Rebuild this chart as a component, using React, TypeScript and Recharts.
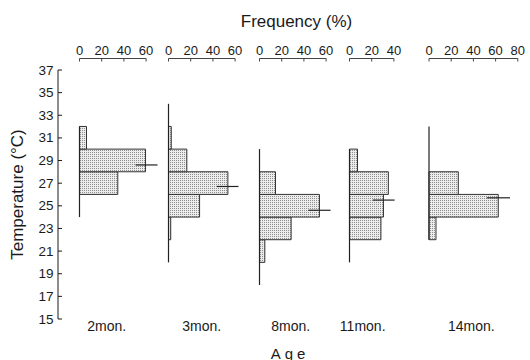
import React from 'react';
import { ComposedChart, XAxis, YAxis, ReferenceArea, ReferenceLine, Label } from 'recharts';

// ages (one histogram panel each)
const ages = ['2mon.', '3mon.', '8mon.', '11mon.', '14mon.'];
const tempTicks = [15, 17, 19, 21, 23, 25, 27, 29, 31, 33, 35, 37];

// histogram bins: lower / upper temperature (°C), frequency (%)
const bins2mon = [
  { lo: 26, hi: 28, pct: 34.5 },
  { lo: 28, hi: 30, pct: 59.5 },
  { lo: 30, hi: 32, pct: 6.3 },
];
const bins3mon = [
  { lo: 22, hi: 24, pct: 2 },
  { lo: 24, hi: 26, pct: 28 },
  { lo: 26, hi: 28, pct: 53.5 },
  { lo: 28, hi: 30, pct: 16.5 },
  { lo: 30, hi: 32, pct: 2.5 },
];
const bins8mon = [
  { lo: 20, hi: 22, pct: 4.8 },
  { lo: 22, hi: 24, pct: 28.5 },
  { lo: 24, hi: 26, pct: 54 },
  { lo: 26, hi: 28, pct: 14.4 },
];
const bins11mon = [
  { lo: 22, hi: 24, pct: 28.3 },
  { lo: 24, hi: 26, pct: 30.6 },
  { lo: 26, hi: 28, pct: 35 },
  { lo: 28, hi: 30, pct: 7.2 },
];
const bins14mon = [
  { lo: 22, hi: 24, pct: 6.3 },
  { lo: 24, hi: 26, pct: 62.4 },
  { lo: 26, hi: 28, pct: 26.4 },
];
const panelBins = [bins2mon, bins3mon, bins8mon, bins11mon, bins14mon];

const freqTicks = [
  [0, 20, 40, 60],
  [0, 20, 40, 60],
  [0, 20, 40, 60],
  [0, 20, 40],
  [0, 20, 40, 60, 80],
];
// temperature range covered by each panel's base line
const tempRange = [[24, 32], [20, 34], [18, 30], [20, 30], [22, 32]];
// mean temperature and the frequency span of its marker
const meanTemp = [28.6, 26.7, 24.6, 25.5, 25.7];
const meanMark = [[50.5, 70.3], [43.6, 63], [44, 64], [21, 40.6], [52, 73]];

// layout
const W = 530;
const H = 360;
const PX_PER_PCT = 1.11;
const panelLeft = [79.5, 168.5, 259.5, 349.5, 429];
const ageShift = [-6, 0, -2, -9, -2];
const FONT = '"Liberation Sans", Arial, Helvetica, sans-serif';
const INK = '#1a1a1a';

const FreqTick = (props: any) => {
  const { x, y, payload } = props;
  return (
    <g>
      <line x1={x} x2={x} y1={y} y2={y + 3} stroke="#444" strokeWidth={1} />
      <text x={x} y={y - 4} textAnchor="middle" fontSize={13} fontFamily={FONT} fill={INK}>
        {payload.value}
      </text>
    </g>
  );
};

const TempTick = (props: any) => {
  const { x, y, payload } = props;
  return (
    <g>
      <line x1={x} x2={x + 4} y1={y} y2={y} stroke={INK} strokeWidth={1} />
      <text x={x - 4.5} y={y} textAnchor="end" dominantBaseline="central" fontSize={13.5} fontFamily={FONT} fill={INK}>
        {payload.value}
      </text>
    </g>
  );
};

const Panel = ({ i }: { i: number }) => {
  const ticks = freqTicks[i];
  const max = ticks[ticks.length - 1];
  const left = panelLeft[i];
  const right = W - left - max * PX_PER_PCT;
  const bins = panelBins[i];
  const pid = `stipple${i}`;
  return (
    <div style={{ position: 'absolute', left: 0, top: 0 }}>
      <ComposedChart width={W} height={H} data={bins} margin={{ top: 28.5, right, bottom: 11, left }}>
        <defs>
          <pattern id={pid} width={2} height={2} patternUnits="userSpaceOnUse">
            <rect width={2} height={2} fill="#ececec" />
            <rect width={1} height={1} fill="#8f8f8f" />
          </pattern>
        </defs>
        <XAxis
          xAxisId="top"
          dataKey="pct"
          orientation="top"
          type="number"
          domain={[0, max]}
          ticks={ticks}
          interval={0}
          height={30}
          tickSize={0}
          tickMargin={0}
          axisLine={{ stroke: '#444', strokeWidth: 1 }}
          tickLine={false}
          tick={<FreqTick />}
          allowDataOverflow
        />
        <XAxis
          xAxisId="bottom"
          dataKey="pct"
          orientation="bottom"
          type="number"
          domain={[0, max]}
          height={30}
          axisLine={false}
          tickLine={false}
          tick={false}
          allowDataOverflow
        >
          <Label
            content={(p: any) => (
              <text
                x={p.viewBox.x + p.viewBox.width / 2 + ageShift[i]}
                y={p.viewBox.y + 7}
                textAnchor="middle"
                dominantBaseline="central"
                fontSize={14}
                fontFamily={FONT}
                fill={INK}
              >
                {ages[i]}
              </text>
            )}
          />
        </XAxis>
        <YAxis dataKey="lo" type="number" domain={[15, 38]} hide allowDataOverflow />
        {bins.map((b, k) => (
          <ReferenceArea
            key={k}
            xAxisId="top"
            x1={0}
            x2={b.pct}
            y1={b.lo}
            y2={b.hi}
            fill={`url(#${pid})`}
            fillOpacity={1}
            stroke="#333"
            strokeWidth={1}
            ifOverflow="visible"
          />
        ))}
        <ReferenceLine
          xAxisId="top"
          segment={[{ x: 0, y: tempRange[i][0] }, { x: 0, y: tempRange[i][1] }]}
          stroke="#222"
          strokeWidth={1.2}
          ifOverflow="visible"
        />
        <ReferenceLine
          xAxisId="top"
          segment={[{ x: meanMark[i][0], y: meanTemp[i] }, { x: meanMark[i][1], y: meanTemp[i] }]}
          stroke="#222"
          strokeWidth={1.2}
          ifOverflow="visible"
        />
      </ComposedChart>
    </div>
  );
};

export default function App() {
  return (
    <div style={{ position: 'relative', width: W, height: H, background: '#fff', fontFamily: FONT }}>
      <style>{'body{margin:0}'}</style>
      <div style={{ position: 'absolute', left: 0, top: 0 }}>
        <ComposedChart width={W} height={H} data={tempTicks.map((t) => ({ temp: t, x: 0.5 }))} margin={{ top: 0, right: 0, bottom: 0, left: 0 }}>
          <XAxis xAxisId="title" dataKey="x" orientation="top" type="number" domain={[0, 1]} height={70} axisLine={false} tickLine={false} tick={false}>
            <Label
              content={(p: any) => (
                <text x={p.viewBox.x + p.viewBox.width / 2 + 2.5} y={21} textAnchor="middle" dominantBaseline="central" fontSize={17} fontFamily={FONT} fill={INK}>
                  Frequency (%)
                </text>
              )}
            />
          </XAxis>
          <XAxis xAxisId="age" dataKey="x" orientation="bottom" type="number" domain={[0, 1]} height={41} axisLine={false} tickLine={false} tick={false}>
            <Label
              content={(p: any) => (
                <text x={p.viewBox.x + p.viewBox.width / 2 - 4} y={p.viewBox.y + 34} textAnchor="middle" dominantBaseline="central" fontSize={15} letterSpacing={4} fontFamily={FONT} fill={INK}>
                  Age
                </text>
              )}
            />
          </XAxis>
          <YAxis
            dataKey="temp"
            type="number"
            domain={[15, 37]}
            ticks={tempTicks}
            interval={0}
            width={58}
            tickSize={0}
            tickMargin={0}
            tick={<TempTick />}
            axisLine={{ stroke: INK, strokeWidth: 1 }}
            tickLine={false}
            allowDataOverflow
          >
            <Label
              content={(p: any) => {
                const cx = 17;
                const cy = p.viewBox.y + p.viewBox.height / 2;
                return (
                  <text x={cx} y={cy} transform={`rotate(-90, ${cx}, ${cy})`} textAnchor="middle" dominantBaseline="central" fontSize={17} fontFamily={FONT} fill={INK}>
                    Temperature (°C)
                  </text>
                );
              }}
            />
          </YAxis>
        </ComposedChart>
      </div>
      {ages.map((_, i) => (
        <Panel key={i} i={i} />
      ))}
    </div>
  );
}
